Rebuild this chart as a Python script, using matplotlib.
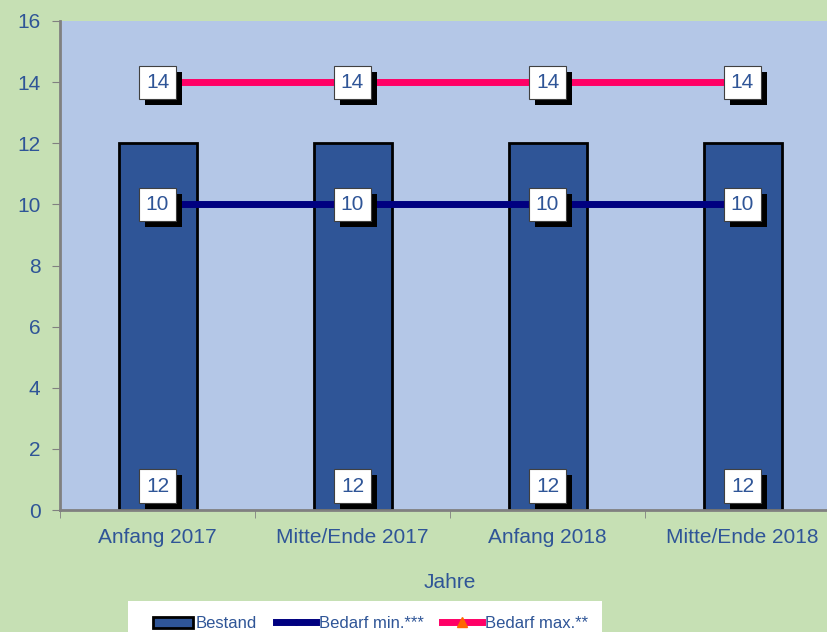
import numpy as np
import matplotlib.pyplot as plt
import matplotlib.patheffects as pe
from matplotlib.patches import Patch, Rectangle
from matplotlib.lines import Line2D

plt.rcParams['font.family'] = ['Liberation Sans', 'DejaVu Sans']

jahre = ['Anfang 2017', 'Mitte/Ende 2017', 'Anfang 2018', 'Mitte/Ende 2018']
bestand = [12, 12, 12, 12]
bedarf_min = [10, 10, 10, 10]
bedarf_max = [14, 14, 14, 14]

blau_text = '#2F5597'
fig = plt.figure(figsize=(8.27, 6.32), dpi=100, facecolor='#C6E0B4')
ax = fig.add_axes([60 / 827, 122 / 632, 780 / 827, 489 / 632])
ax.set_facecolor('#B4C7E7')

x = np.arange(len(jahre))
ax.bar(x, bestand, width=0.4, color='#2F5597', edgecolor='black', linewidth=2, zorder=2)
ax.plot(x, bedarf_min, color='#000080', linewidth=5, marker='D', markersize=4, zorder=3)
ax.plot(x, bedarf_max, color='#FF0066', linewidth=5, marker='^', markersize=6,
        markerfacecolor='#FF6600', markeredgecolor='#FF6600', zorder=3)

schatten = [pe.SimplePatchShadow(offset=(4.3, -4.3), shadow_rgbFace='black', alpha=1),
            pe.Normal()]


def beschriftung(xp, yp, wert, dy=0):
    t = ax.annotate(str(wert), (xp, yp), xytext=(0, dy), textcoords='offset pixels',
                    ha='center', va='center', fontsize=15, color=blau_text, zorder=6,
                    bbox=dict(boxstyle='square,pad=0.34', fc='white', ec='#404040', lw=0.8))
    t.get_bbox_patch().set_path_effects(schatten)


for i in range(len(jahre)):
    beschriftung(x[i], bedarf_max[i], bedarf_max[i])
    beschriftung(x[i], bedarf_min[i], bedarf_min[i])
    beschriftung(x[i], 0, bestand[i], dy=24)

ax.set_xlim(-0.5, 3.5)
ax.set_ylim(0, 16)
ax.set_yticks(range(0, 17, 2))
ax.set_xticks(x)
ax.set_xticklabels(jahre)
ax.set_xticks(np.arange(-0.5, 3.6, 1), minor=True)
ax.tick_params(axis='x', which='major', length=0, pad=13, labelsize=15, labelcolor=blau_text)
ax.tick_params(axis='x', which='minor', length=6, color='#808080', direction='out')
ax.tick_params(axis='y', length=6, color='#808080', pad=8, labelsize=15, labelcolor=blau_text)
for s in ['top', 'right']:
    ax.spines[s].set_visible(False)
for s in ['left', 'bottom']:
    ax.spines[s].set_color('#808080')
    ax.spines[s].set_linewidth(2)

fig.text(450 / 827, 1 - 582 / 632, 'Jahre', ha='center', va='center', fontsize=15, color=blau_text)

# weisser legendenkasten
fig.patches.append(Rectangle((128 / 827, -0.05), (602 - 128) / 827, 0.05 + 31 / 632,
                             transform=fig.transFigure, facecolor='white', edgecolor='none'))
handles = [Patch(facecolor='#2F5597', edgecolor='black', linewidth=2),
           Line2D([], [], color='#000080', linewidth=5, marker='D', markersize=3),
           Line2D([], [], color='#FF0066', linewidth=5, marker='^', markersize=7,
                  markerfacecolor='#FF6600', markeredgecolor='#FF6600')]
leg = fig.legend(handles, ['Bestand', 'Bedarf min.***', 'Bedarf max.**'],
                 loc='upper left', bbox_to_anchor=(153 / 827, 1 - 616 / 632), ncol=3,
                 fontsize=12, frameon=False, handlelength=2.4, handleheight=0.65,
                 handletextpad=0.18, columnspacing=1.1, borderpad=0, borderaxespad=0)
for t in leg.get_texts():
    t.set_color(blau_text)

fig.savefig('out.png', dpi=100, facecolor=fig.get_facecolor())
